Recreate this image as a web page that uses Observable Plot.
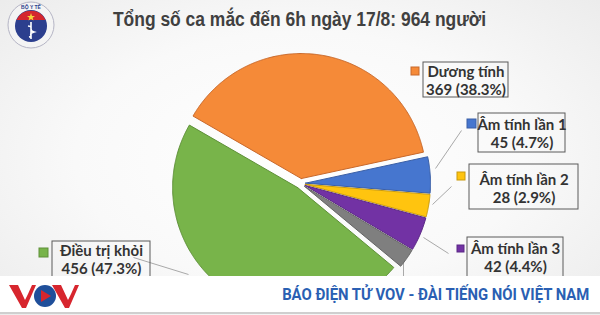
<!DOCTYPE html>
<html><head><meta charset="utf-8">
<script src="https://cdn.jsdelivr.net/npm/d3@7"></script>
<script src="https://cdn.jsdelivr.net/npm/@observablehq/plot@0.6"></script>
<style>
body{margin:0;background:#fff;}
#wrap{position:relative;width:600px;height:315px;overflow:hidden;
 background:radial-gradient(ellipse 75% 80% at 50% 50%, #ffffff 0%, #f9f9f9 50%, #e9e9e9 100%);}
#head{position:relative;height:42px;}
#title{position:absolute;left:0;top:8px;width:600px;text-align:center;white-space:nowrap;
 font:bold 19.5px "Liberation Sans",Arial,sans-serif;color:#404040;}
#title span{display:inline-block;transform:scaleX(0.895);transform-origin:center;}
#logo{position:absolute;left:7px;top:1px;}
#chart svg{display:block;}
#banner{position:absolute;left:0;top:276px;width:600px;height:36px;background:#fff;border-bottom:2px solid #cfcfcf;}
#bannertext{position:absolute;right:11px;top:9px;white-space:nowrap;
 font:bold 16px "Liberation Sans Narrow","Roboto",sans-serif;color:#2a5fb3;}
#bannertext span{display:inline-block;transform:scaleX(0.93);transform-origin:right;}
#vov{position:absolute;left:9px;top:6px;}
</style></head>
<body>
<div id="wrap">
 <div id="head">
  <svg id="logo" width="50" height="50" viewBox="0 0 50 50">
   <circle cx="24" cy="24" r="23" fill="#f4f4f4" stroke="#b5b5c5" stroke-width="1"/>
   <circle cx="24" cy="25" r="16" fill="#2c3f8e"/>
   <path d="M9.5 19 A16 16 0 0 1 38.5 19 Z" fill="#d4262e"/>
   <polygon points="24,12 25,15 28,15 25.6,16.8 26.5,19.6 24,18 21.5,19.6 22.4,16.8 20,15 23,15" fill="#f5d33a"/>
   <path d="M24 21 L24 38 M21 25 C28 26 20 29 27 31 C20 33 27 35 22 36" stroke="#fff" stroke-width="1.6" fill="none"/>
   <text x="24" y="7.5" text-anchor="middle" font-size="5" font-family="Liberation Sans" font-weight="bold" fill="#2c3f8e">BỘ Y TẾ</text>
  </svg>
  <div id="title"><span>Tổng số ca mắc đến 6h ngày 17/8: 964 người</span></div>
 </div>
 <div id="chart"></div>
 <div id="banner">
  <svg id="vov" width="70" height="28" viewBox="0 0 70 28">
   <polygon points="0,3 9,3 16,18 19,12 23,3 27,3 17,26 13,26" fill="#d7262e"/>
   <circle cx="36" cy="14" r="11" fill="#1f4f9a"/>
   <polygon points="32,8 42,14 32,20" fill="#d7262e"/>
   <polygon points="43,3 52,3 59,18 62,12 66,3 70,3 60,26 56,26" fill="#d7262e"/>
  </svg>
  <div id="bannertext"><span>BÁO ĐIỆN TỬ VOV - ĐÀI TIẾNG NÓI VIỆT NAM</span></div>
 </div>
</div>
<script>
// ---- data ----
const categories = ["Dương tính", "Âm tính lần 1", "Âm tính lần 2", "Âm tính lần 3", "Tử vong", "Điều trị khỏi"];
const values = [369, 45, 28, 42, 24, 456];
const percentLabels = ["38.3%", "4.7%", "2.9%", "4.4%", "2.5%", "47.3%"];
const total = 964;

// ---- styles ----
const fills = ["#f58a38", "#4676cf", "#ffc40f", "#7232a4", "#7f7f7f", "#78b44a"];
const strokes = ["#c8682a", "#3a5fa6", "#c99a0c", "#5a2685", "#646464", "#5e9038"];

// ---- layout (page pixel units; y scale mapped to page rows 42..276) ----
const cx = 300, cy = 183, R = 125, explode = 5;
const startDeg = -60;
const labelLayout = [
  {box: [423, 508, 62, 97], sq: [411, 419, 67, 75], tx: 465.5, ty: 80, lead: null},
  {box: [478, 565, 113, 152], sq: [467, 476, 119, 128], tx: 521.5, ty: 133, lead: [461, 130, 435, 168]},
  {box: [469, 578, 164, 209], sq: [457, 465, 172, 180], tx: 523.5, ty: 188, lead: [451, 186, 432, 204]},
  {box: [467, 563, 237, 283], sq: [457, 464, 245, 252], tx: 515, ty: 257, lead: [448, 253, 423, 237]},
  {box: null, sq: null, tx: null, ty: null, lead: [403, 260, 403, 290]},
  {box: [52, 150, 241, 283], sq: [39, 48, 248, 257], tx: 101, ty: 259, lead: [133, 257, 188, 274]}
];

// ---- pie geometry from the values ----
const pie = d3.pie().sort(null)
  .startAngle(startDeg * Math.PI / 180)
  .endAngle(startDeg * Math.PI / 180 + 2 * Math.PI)(values);
const pts = [];
pie.forEach((s, i) => {
  const mid = (s.startAngle + s.endAngle) / 2;
  const ox = cx + explode * Math.sin(mid), oy = cy - explode * Math.cos(mid);
  const apex = {name: categories[i], x: ox, y: oy, f: fills[i], s: strokes[i]};
  pts.push(apex);
  const n = Math.max(4, Math.ceil((s.endAngle - s.startAngle) / (Math.PI / 360)));
  for (let k = 0; k <= n; k++) {
    const a = s.startAngle + (s.endAngle - s.startAngle) * k / n;
    pts.push({name: categories[i], x: ox + R * Math.sin(a), y: oy - R * Math.cos(a), f: fills[i], s: strokes[i]});
  }
  pts.push({...apex});
});

const labels = categories.map((c, i) => ({
  name: c, text: `${c}\n${values[i]} (${percentLabels[i]})`, f: fills[i], s: strokes[i], ...labelLayout[i]
}));
const boxed = labels.filter(d => d.box);
const leads = labels.filter(d => d.lead);

const chart = Plot.plot({
  width: 600, height: 234,
  margin: 0,
  x: {domain: [0, 600], axis: null},
  y: {domain: [276, 42], axis: null},
  color: {type: "identity"},
  style: {background: "transparent", fontFamily: "Lato, 'Open Sans', sans-serif"},
  marks: [
    Plot.link(leads, {x1: d => d.lead[0], y1: d => d.lead[1], x2: d => d.lead[2], y2: d => d.lead[3], stroke: "#a9a9a9", strokeWidth: 1}),
    Plot.line(pts, {x: "x", y: "y", z: "name", fill: "f", stroke: "s", strokeWidth: 1, curve: "linear"}),
    Plot.rect(boxed, {x1: d => d.box[0], x2: d => d.box[1], y1: d => d.box[2], y2: d => d.box[3], fill: "none", stroke: "#5a5a5a", strokeWidth: 1}),
    Plot.rect(boxed, {x1: d => d.sq[0], x2: d => d.sq[1], y1: d => d.sq[2], y2: d => d.sq[3], fill: "f", stroke: "s", strokeWidth: 1}),
    Plot.text(boxed, {x: "tx", y: "ty", text: "text", fill: "#333333", fontSize: 15, fontWeight: "bold", lineHeight: 1.18, textAnchor: "middle"})
  ]
});
document.getElementById("chart").appendChild(chart);
</script>
</body></html>
